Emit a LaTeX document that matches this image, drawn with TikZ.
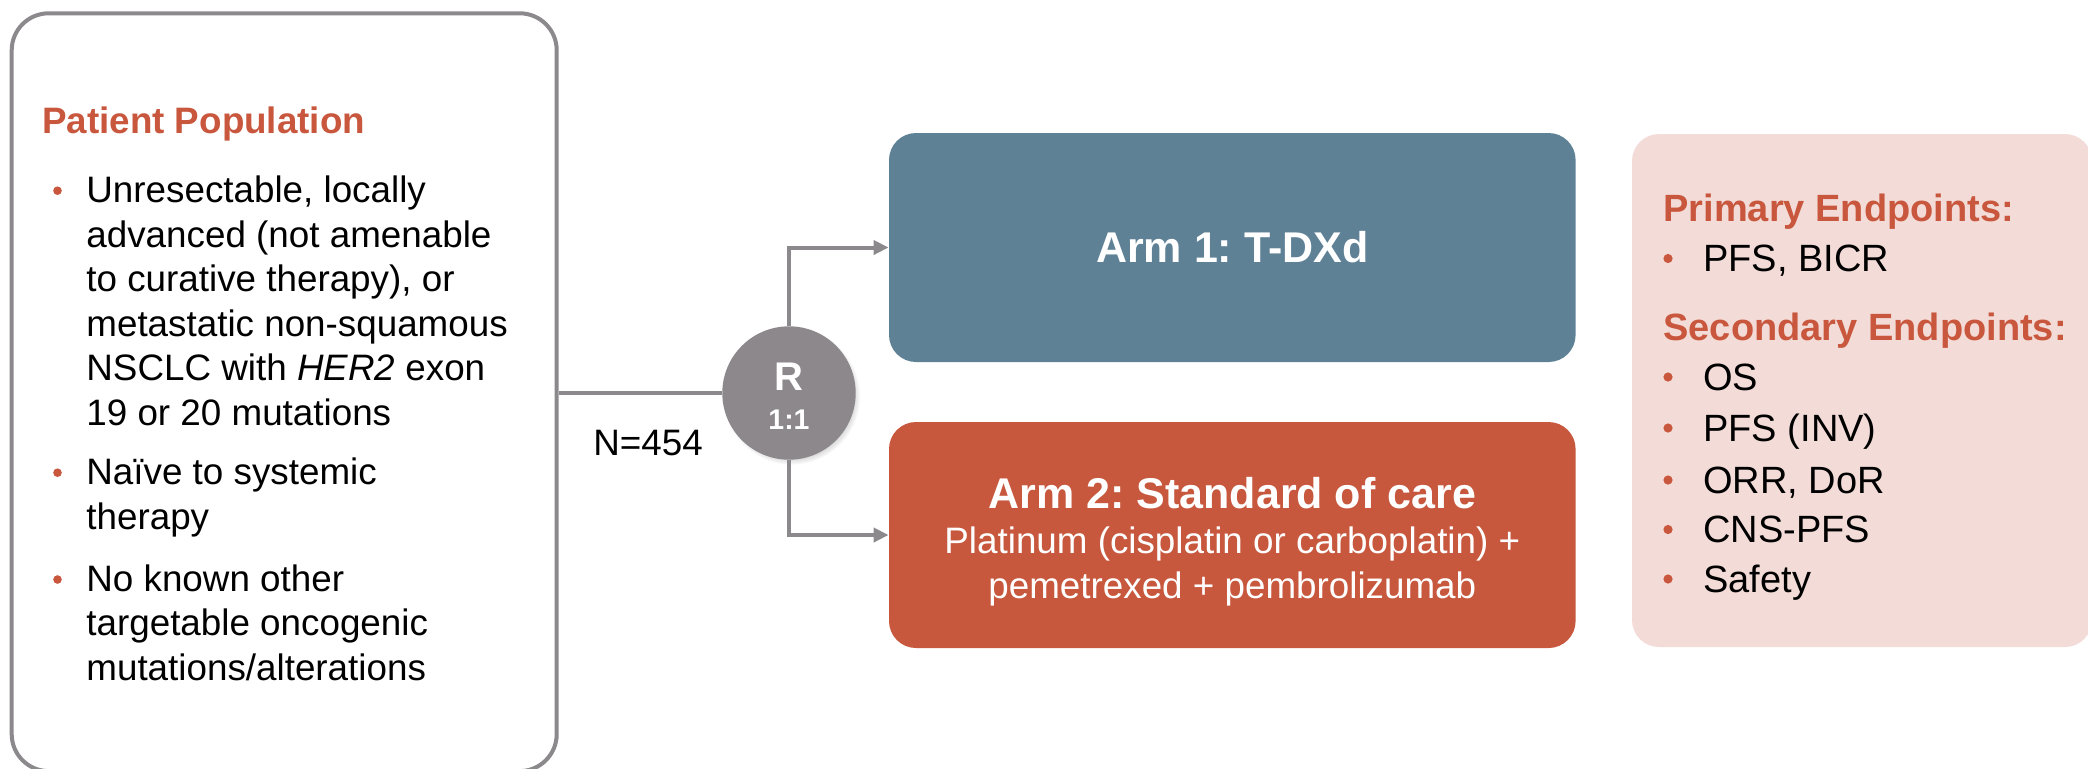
\documentclass[tikz,border=0pt]{standalone}
\usepackage{fontspec}
\setmainfont{Liberation Sans}
\usetikzlibrary{arrows.meta,shadows}
\frenchspacing

\definecolor{accent}{HTML}{C8573D}
\definecolor{armblue}{HTML}{5E8196}
\definecolor{armred}{HTML}{C7573D}
\definecolor{endpink}{HTML}{F3DCD8}
\definecolor{linegray}{HTML}{8C898C}
\definecolor{randgray}{HTML}{8C888B}

\newcommand{\leftsize}{\fontsize{18.4pt}{22.25pt}\selectfont}
\newcommand{\rightsize}{\fontsize{19pt}{23pt}\selectfont}
\newcommand{\armsize}{\fontsize{21.5pt}{26pt}\selectfont}

\begin{document}
\begin{tikzpicture}[x=0.5pt,y=-0.5pt,
  txt/.style={inner sep=0pt, anchor=base west},
  body/.style={txt, font=\leftsize},
  rbody/.style={txt, font=\rightsize},
  heading/.style={txt, text=accent, font=\leftsize\bfseries},
  rheading/.style={txt, text=accent, font=\rightsize\bfseries},
  dot/.style={circle, fill=accent, inner sep=0pt, minimum size=4.3pt},
  popbox/.style={draw=linegray, line width=2pt, rounded corners=18.5pt,
    minimum width=272.5pt, minimum height=378.9pt, inner sep=0pt},
  armbox/.style={rounded corners=13.5pt, minimum width=343.3pt, inner sep=0pt,
    text=white, font=\armsize\bfseries},
  endbox/.style={fill=endpink, rounded corners=13.5pt, minimum width=230pt,
    minimum height=256.5pt, inner sep=0pt},
  randnode/.style={circle, fill=randgray, minimum size=66.7pt, inner sep=0pt,
    circular drop shadow={shadow xshift=1.2pt, shadow yshift=-1.5pt,
      shadow scale=1.03, opacity=0.45}},
  conn/.style={draw=linegray, line width=2pt},
  arrowconn/.style={conn, -{Triangle[length=7.5pt,width=7pt]}}
]
\useasboundingbox (0,0) rectangle (2088,768);
\clip (0,0) rectangle (2088,768);

% patient population panel
\node[popbox] (pop) at (284.2,392.2) {};
\node[heading] (poptitle) at (41.7,133) {Patient Population};
\node[dot] (d1) at (57.5,190.7) {};
\node[body] (b1) at (86,202.5) {\parbox[t]{240pt}{\raggedright
  Unresectable, locally\\
  advanced (not amenable\\
  to curative therapy), or\\
  metastatic non-squamous\\
  NSCLC with \textit{HER2} exon\\
  19 or 20 mutations}};
\node[dot] (d2) at (57.5,472.7) {};
\node[body] (b2) at (86,484.5) {\parbox[t]{240pt}{\raggedright
  Naïve to systemic\\
  therapy}};
\node[dot] (d3) at (57.5,579.5) {};
\node[body] (b3) at (86,591) {\parbox[t]{240pt}{\raggedright
  No known other\\
  targetable oncogenic\\
  mutations/alterations}};

% randomisation
\node[randnode] (rand) at (789,393) {};
\node[inner sep=0pt, text=white, font=\fontsize{20pt}{24pt}\selectfont\bfseries] (rlab) at (789,377) {R};
\node[inner sep=0pt, text=white, font=\fontsize{14.2pt}{17pt}\selectfont\bfseries] (ratio) at (789,420) {1:1};
\node[body] (n) at (593,455) {N=454};

% treatment arms
\node[armbox, fill=armblue, minimum height=114.5pt] (arm1) at (1232.3,247.5) {Arm 1: T-DXd};
\node[armbox, fill=armred, minimum height=113pt] (arm2) at (1232.3,535) {};
\node[inner sep=0pt, anchor=base, text=white, font=\armsize\bfseries] (arm2title) at (1232.3,508) {Arm 2: Standard of care};
\node[inner sep=0pt, anchor=base, text=white, font=\leftsize] (arm2drug1) at (1232.3,553.5) {Platinum (cisplatin or carboplatin) +};
\node[inner sep=0pt, anchor=base, text=white, font=\leftsize] (arm2drug2) at (1232.3,598) {pemetrexed + pembrolizumab};

% connectors
\draw[conn] (pop.east |- rand.west) -- (rand.west);
\draw[arrowconn] (rand.north) |- (arm1.west);
\draw[arrowconn] (rand.south) |- (arm2.west);

% endpoints panel
\node[endbox] (endpts) at (1862,390.5) {};
\node[rheading] (prim) at (1663,221.6) {Primary Endpoints:};
\node[dot, minimum size=4.6pt] (e1) at (1668,258.5) {};
\node[rbody] (pfs) at (1703,271.5) {PFS, BICR};
\node[rheading] (sec) at (1663,340) {Secondary Endpoints:};
\node[dot, minimum size=4.6pt] (e2) at (1668,377) {};
\node[rbody] (os) at (1703,390) {OS};
\node[dot, minimum size=4.6pt] (e3) at (1668,428) {};
\node[rbody] (pfsinv) at (1703,441) {PFS (INV)};
\node[dot, minimum size=4.6pt] (e4) at (1668,480) {};
\node[rbody] (orr) at (1703,493) {ORR, DoR};
\node[dot, minimum size=4.6pt] (e5) at (1668,529.5) {};
\node[rbody] (cns) at (1703,542.5) {CNS-PFS};
\node[dot, minimum size=4.6pt] (e6) at (1668,579) {};
\node[rbody] (safety) at (1703,592) {Safety};
\end{tikzpicture}
\end{document}
